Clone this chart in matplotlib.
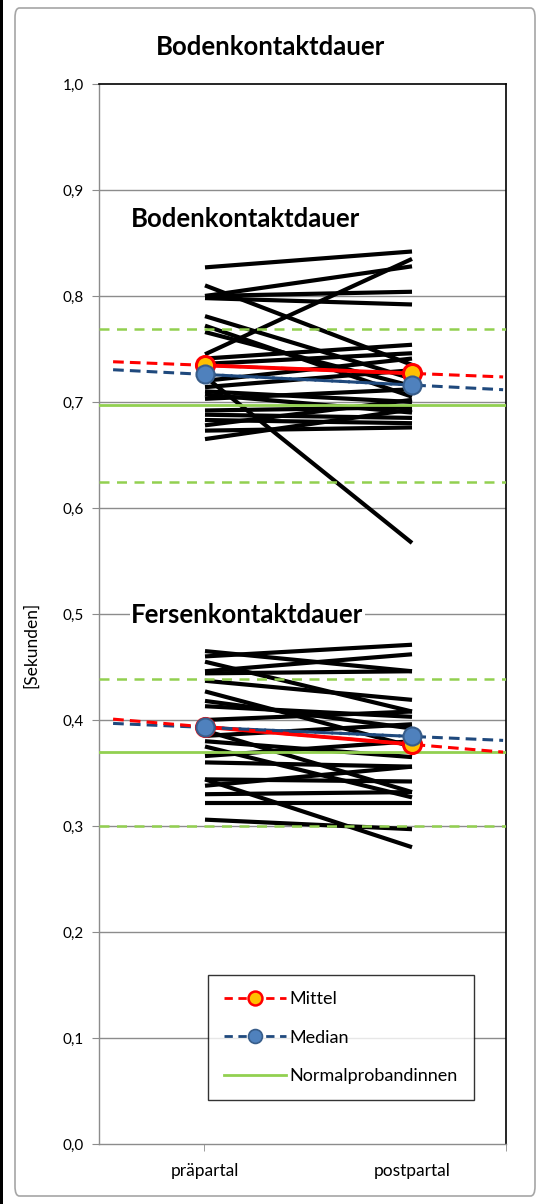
import matplotlib
matplotlib.use("Agg")
import matplotlib.pyplot as plt
from matplotlib.lines import Line2D
from matplotlib.patches import FancyBboxPatch, Rectangle

plt.rcParams['font.family'] = ['Lato', 'DejaVu Sans']

# Categories
categories = ["präpartal", "postpartal"]

# Bodenkontaktdauer per subject (pre, post)
boden_pre = [0.827, 0.745, 0.800, 0.800, 0.798, 0.810, 0.781, 0.772, 0.766,
             0.741, 0.736, 0.724, 0.720, 0.714, 0.710, 0.707, 0.703, 0.692,
             0.688, 0.683, 0.678, 0.673, 0.665]
boden_post = [0.842, 0.835, 0.828, 0.804, 0.792, 0.735, 0.722, 0.705, 0.715,
              0.754, 0.746, 0.567, 0.741, 0.730, 0.700, 0.690, 0.712, 0.695,
              0.685, 0.680, 0.702, 0.676, 0.693]

# Fersenkontaktdauer per subject (pre, post)
fersen_pre = [0.460, 0.465, 0.455, 0.446, 0.444, 0.437, 0.427, 0.418, 0.413,
              0.400, 0.385, 0.380, 0.366, 0.360, 0.344, 0.344, 0.338, 0.330,
              0.322, 0.306, 0.390, 0.375]
fersen_post = [0.471, 0.446, 0.408, 0.462, 0.446, 0.419, 0.375, 0.392, 0.403,
               0.408, 0.396, 0.365, 0.380, 0.356, 0.280, 0.342, 0.356, 0.332,
               0.322, 0.297, 0.332, 0.327]

# Group statistics
boden_mean = [0.7346, 0.7270]
boden_median = [0.7260, 0.7160]
fersen_mean = [0.3935, 0.3770]
fersen_median = [0.3930, 0.3845]

# Reference values of the control group (mean and +/- band)
boden_norm = 0.697
boden_band = [0.769, 0.625]
fersen_norm = 0.370
fersen_band = [0.439, 0.300]

yticks = [0.0, 0.1, 0.2, 0.3, 0.4, 0.5, 0.6, 0.7, 0.8, 0.9, 1.0]

fig = plt.figure(figsize=(5.48, 12.04), dpi=100)

# outer chart frame
fig.patches.append(FancyBboxPatch((15 / 548, 8 / 1204), 520 / 548, 1188 / 1204,
                                  boxstyle="round,pad=0,rounding_size=0.008",
                                  transform=fig.transFigure, fill=False,
                                  edgecolor="#A6A6A6", linewidth=1.2))
fig.patches.append(Rectangle((0, 0), 3 / 548, 1, transform=fig.transFigure,
                             facecolor="black", edgecolor="none"))

ax = fig.add_axes([99 / 548, 1 - 1144 / 1204, 407 / 548, 1060 / 1204])
x = [0, 1]
xlo, xhi = -0.512, 1.454
ext = [-0.444, 1.44]

ax.set_xlim(xlo, xhi)
ax.set_ylim(0, 1.0)

for yv in yticks[1:-1]:
    ax.axhline(yv, color="#8C8C8C", lw=1.0, zorder=1)

for pre, post in zip(boden_pre, boden_post):
    ax.plot(x, [pre, post], color="black", lw=3.0, zorder=3, solid_capstyle="butt")
for pre, post in zip(fersen_pre, fersen_post):
    ax.plot(x, [pre, post], color="black", lw=3.0, zorder=3, solid_capstyle="butt")

green = "#92D050"
for norm, band in ((boden_norm, boden_band), (fersen_norm, fersen_band)):
    ax.axhline(norm, color=green, lw=2.0, zorder=4)
    for b in band:
        ax.axhline(b, color=green, lw=1.8, ls=(0, (4, 3)), zorder=4)


def extend(vals):
    slope = vals[1] - vals[0]
    return [vals[0] + slope * ext[0], vals[0] + slope * ext[1]]


red = "#FF0000"
blue_line = "#1F497D"
for mean, med in ((boden_mean, boden_median), (fersen_mean, fersen_median)):
    ax.plot(ext, extend(med), color=blue_line, lw=2.2, ls=(0, (3.5, 2)), zorder=5)
    ax.plot(ext, extend(mean), color=red, lw=2.2, ls=(0, (3.5, 2)), zorder=5)
    ax.plot(x, mean, color=red, lw=2.8, zorder=6, marker="o", markersize=13,
            markerfacecolor="#FFC000", markeredgecolor=red, markeredgewidth=2.2)
    ax.plot(x, med, color=blue_line, lw=2.2, ls=(0, (3.5, 2)), zorder=7,
            marker="o", markersize=13, markerfacecolor="#4F81BD",
            markeredgecolor="#385D8A", markeredgewidth=1.5)

ax.text(-0.357, 0.8725, "Bodenkontaktdauer", fontsize=18.5, fontweight="bold",
        ha="left", va="center", zorder=8)
ax.text(-0.357, 0.4995, "Fersenkontaktdauer", fontsize=18.5, fontweight="bold",
        ha="left", va="center", zorder=8,
        bbox=dict(facecolor="white", edgecolor="none", pad=1))

ax.set_yticks(yticks)
ax.set_yticklabels([f"{v:.1f}".replace(".", ",") for v in yticks], fontsize=11)
ax.set_xticks(x)
ax.set_xticklabels(categories, fontsize=12.5)
ax.set_xticks([0.5 * (xlo + 1 - 0.5), xhi], minor=True)
ax.tick_params(axis="y", length=5, color="#8C8C8C", pad=6)
ax.tick_params(axis="x", which="major", length=0, pad=14)
ax.tick_params(axis="x", which="minor", length=5, color="#8C8C8C")
for side in ("left", "bottom"):
    ax.spines[side].set_color("#8C8C8C")
    ax.spines[side].set_linewidth(1.0)
for side in ("top", "right"):
    ax.spines[side].set_color("black")
    ax.spines[side].set_linewidth(1.2)

ax.set_ylabel("[Sekunden]", fontsize=12.5)
ax.yaxis.set_label_coords(-0.146, 0.471)

fig.text(270 / 548, 1 - 47 / 1204, "Bodenkontaktdauer", fontsize=18.5,
         fontweight="bold", ha="center", va="center")

handles = [
    Line2D([], [], color=red, lw=2, ls=(0, (3, 2)), marker="o", markersize=10,
           markerfacecolor="#FFC000", markeredgecolor=red, markeredgewidth=1.8),
    Line2D([], [], color=blue_line, lw=2, ls=(0, (3, 2)), marker="o", markersize=10,
           markerfacecolor="#4F81BD", markeredgecolor="#385D8A", markeredgewidth=1.2),
    Line2D([], [], color=green, lw=2),
]
leg = ax.legend(handles, ["Mittel", "Median", "Normalprobandinnen"],
                loc="upper left", bbox_to_anchor=(0.268, 0.1596),
                fontsize=13, frameon=True, fancybox=False, handlelength=3.4,
                handletextpad=0.2, labelspacing=1.25, borderpad=0.9,
                borderaxespad=0)
leg.get_frame().set_edgecolor("black")
leg.get_frame().set_linewidth(1.0)
leg.set_zorder(10)

fig.savefig("out.png", dpi=100)
